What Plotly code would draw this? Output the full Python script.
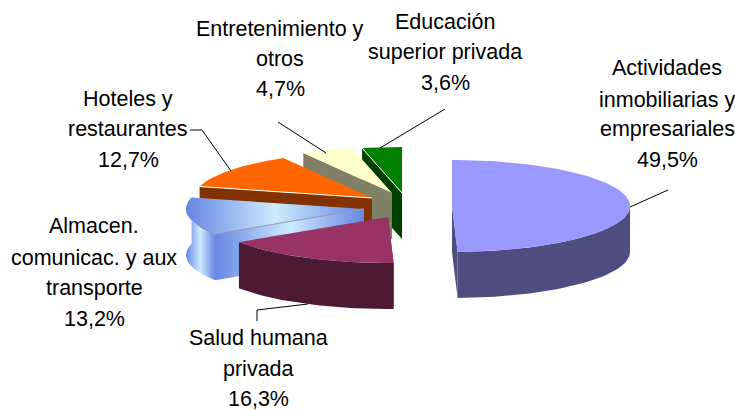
import math
import plotly.graph_objects as go

categories = ["Actividades inmobiliarias y empresariales", "Salud humana privada",
              "Almacen. comunicac. y aux transporte", "Hoteles y restaurantes",
              "Entretenimiento y otros", "Educación superior privada"]
values = [49.5, 16.3, 13.2, 12.7, 4.7, 3.6]

top_colors = ["#9999FF", "#993366", None, "#FF6600", "#FFFFCC", "#008000"]
side_colors = ["#4D4D80", "#4D1A33", None, "#803300", "#808066", "#004000"]
centers = [(452, 206), (388, 217), (364, 209), (372, 198), (392, 193), (402, 193)]
RX, RY, DEPTH = 178, 46, 46
BLUE, LIGHT = "#6686E2", "#CDEBFF"
GRAD = [[0, BLUE], [0.5, LIGHT], [1, BLUE]]

label_lines = [
    (["Actividades", "inmobiliarias y", "empresariales", "49,5%"], 667, [68, 100, 129, 160]),
    (["Salud humana", "privada", "16,3%"], 258, [338, 369, 399]),
    (["Almacen.", "comunicac. y aux", "transporte", "13,2%"], 94, [226, 258, 288, 319]),
    (["Hoteles y", "restaurantes", "12,7%"], 128, [99, 129, 160]),
    (["Entretenimiento y", "otros", "4,7%"], 280, [29, 59, 89]),
    (["Educación", "superior privada"  , "3,6%"], 445, [22, 52, 83]),
]
leaders = [
    [(630, 207), (668, 190)],
    [(308, 304), (257, 310), (257, 321)],
    [(231, 171), (202, 130), (190, 130)],
    [(326, 153), (278, 122)],
    [(380, 148), (445, 109)],
]


def pt(c, deg, dy=0):
    a = math.radians(deg)
    return c[0] + RX * math.sin(a), c[1] - RY * math.cos(a) + dy


def arc(c, a0, a1, dy=0):
    n = max(2, int(abs(a1 - a0) / 2) + 1)
    return [pt(c, a0 + (a1 - a0) * i / (n - 1), dy) for i in range(n)]


fig = go.Figure()


def poly(points, color=None, gradient=False):
    xs = [p[0] for p in points] + [points[0][0]]
    ys = [p[1] for p in points] + [points[0][1]]
    kw = dict(x=xs, y=ys, mode="lines", fill="toself", line=dict(width=0), hoverinfo="skip", showlegend=False)
    if gradient:
        kw["fillgradient"] = dict(type="horizontal", colorscale=GRAD)
    else:
        kw["fillcolor"] = color
    fig.add_trace(go.Scatter(**kw))


angles = []
s = 0.0
for v in values:
    angles.append((s * 3.6, (s + v) * 3.6))
    s += v

# back-to-front drawing order
for i in [5, 4, 3, 2, 1, 0]:
    c = centers[i]
    a0, a1 = angles[i]
    top = [c] + arc(c, a0, a1)
    grad = top_colors[i] is None
    # visible cut face of each slice
    if i == 0:
        p = pt(c, a1)
        poly([c, p, (p[0], p[1] + DEPTH), (c[0], c[1] + DEPTH)], side_colors[i])
    else:
        p = pt(c, a0)
        poly([c, p, (p[0], p[1] + DEPTH), (c[0], c[1] + DEPTH)], side_colors[i], gradient=grad)
    # outer wall, front half only (the gradient slice shows its whole left wall)
    w0, w1 = max(a0, 90), min(a1, 270)
    if i == 2:
        poly(arc(c, a0, a1) + arc(c, a1, a0, DEPTH), gradient=True)
    elif w1 > w0:
        poly(arc(c, w0, w1) + arc(c, w1, w0, DEPTH), side_colors[i])
    poly(top, top_colors[i], gradient=grad)
    if i in (3, 5):
        p = pt(c, a0)
        fig.add_trace(go.Scatter(x=[c[0], p[0]], y=[c[1], p[1]], mode="lines",
                                 line=dict(color="#FFFFFF", width=1), hoverinfo="skip", showlegend=False))
    if i == 2:
        p = pt(c, a0)
        fig.add_trace(go.Scatter(x=[c[0], p[0]], y=[c[1], p[1]], mode="lines",
                                 line=dict(color="#A09CB0", width=1), hoverinfo="skip", showlegend=False))

for pts in leaders:
    fig.add_trace(go.Scatter(x=[p[0] for p in pts], y=[p[1] for p in pts], mode="lines",
                             line=dict(color="#000000", width=1), hoverinfo="skip", showlegend=False))

for lines, x, ys in label_lines:
    for t, y in zip(lines, ys):
        fig.add_annotation(x=x, y=y, text=t, showarrow=False, xanchor="center", yanchor="middle",
                           font=dict(family="Liberation Sans", size=21.5, color="#000000"))

fig.update_layout(
    width=735, height=410, margin=dict(l=0, r=0, t=0, b=0),
    paper_bgcolor="#FFFFFF", plot_bgcolor="#FFFFFF",
    xaxis=dict(range=[0, 735], visible=False, fixedrange=True),
    yaxis=dict(range=[410, 0], visible=False, fixedrange=True),
)
fig.write_html("out.html", config={"displayModeBar": False},
               post_script="document.body.style.margin='0';document.documentElement.style.overflow='hidden';")
